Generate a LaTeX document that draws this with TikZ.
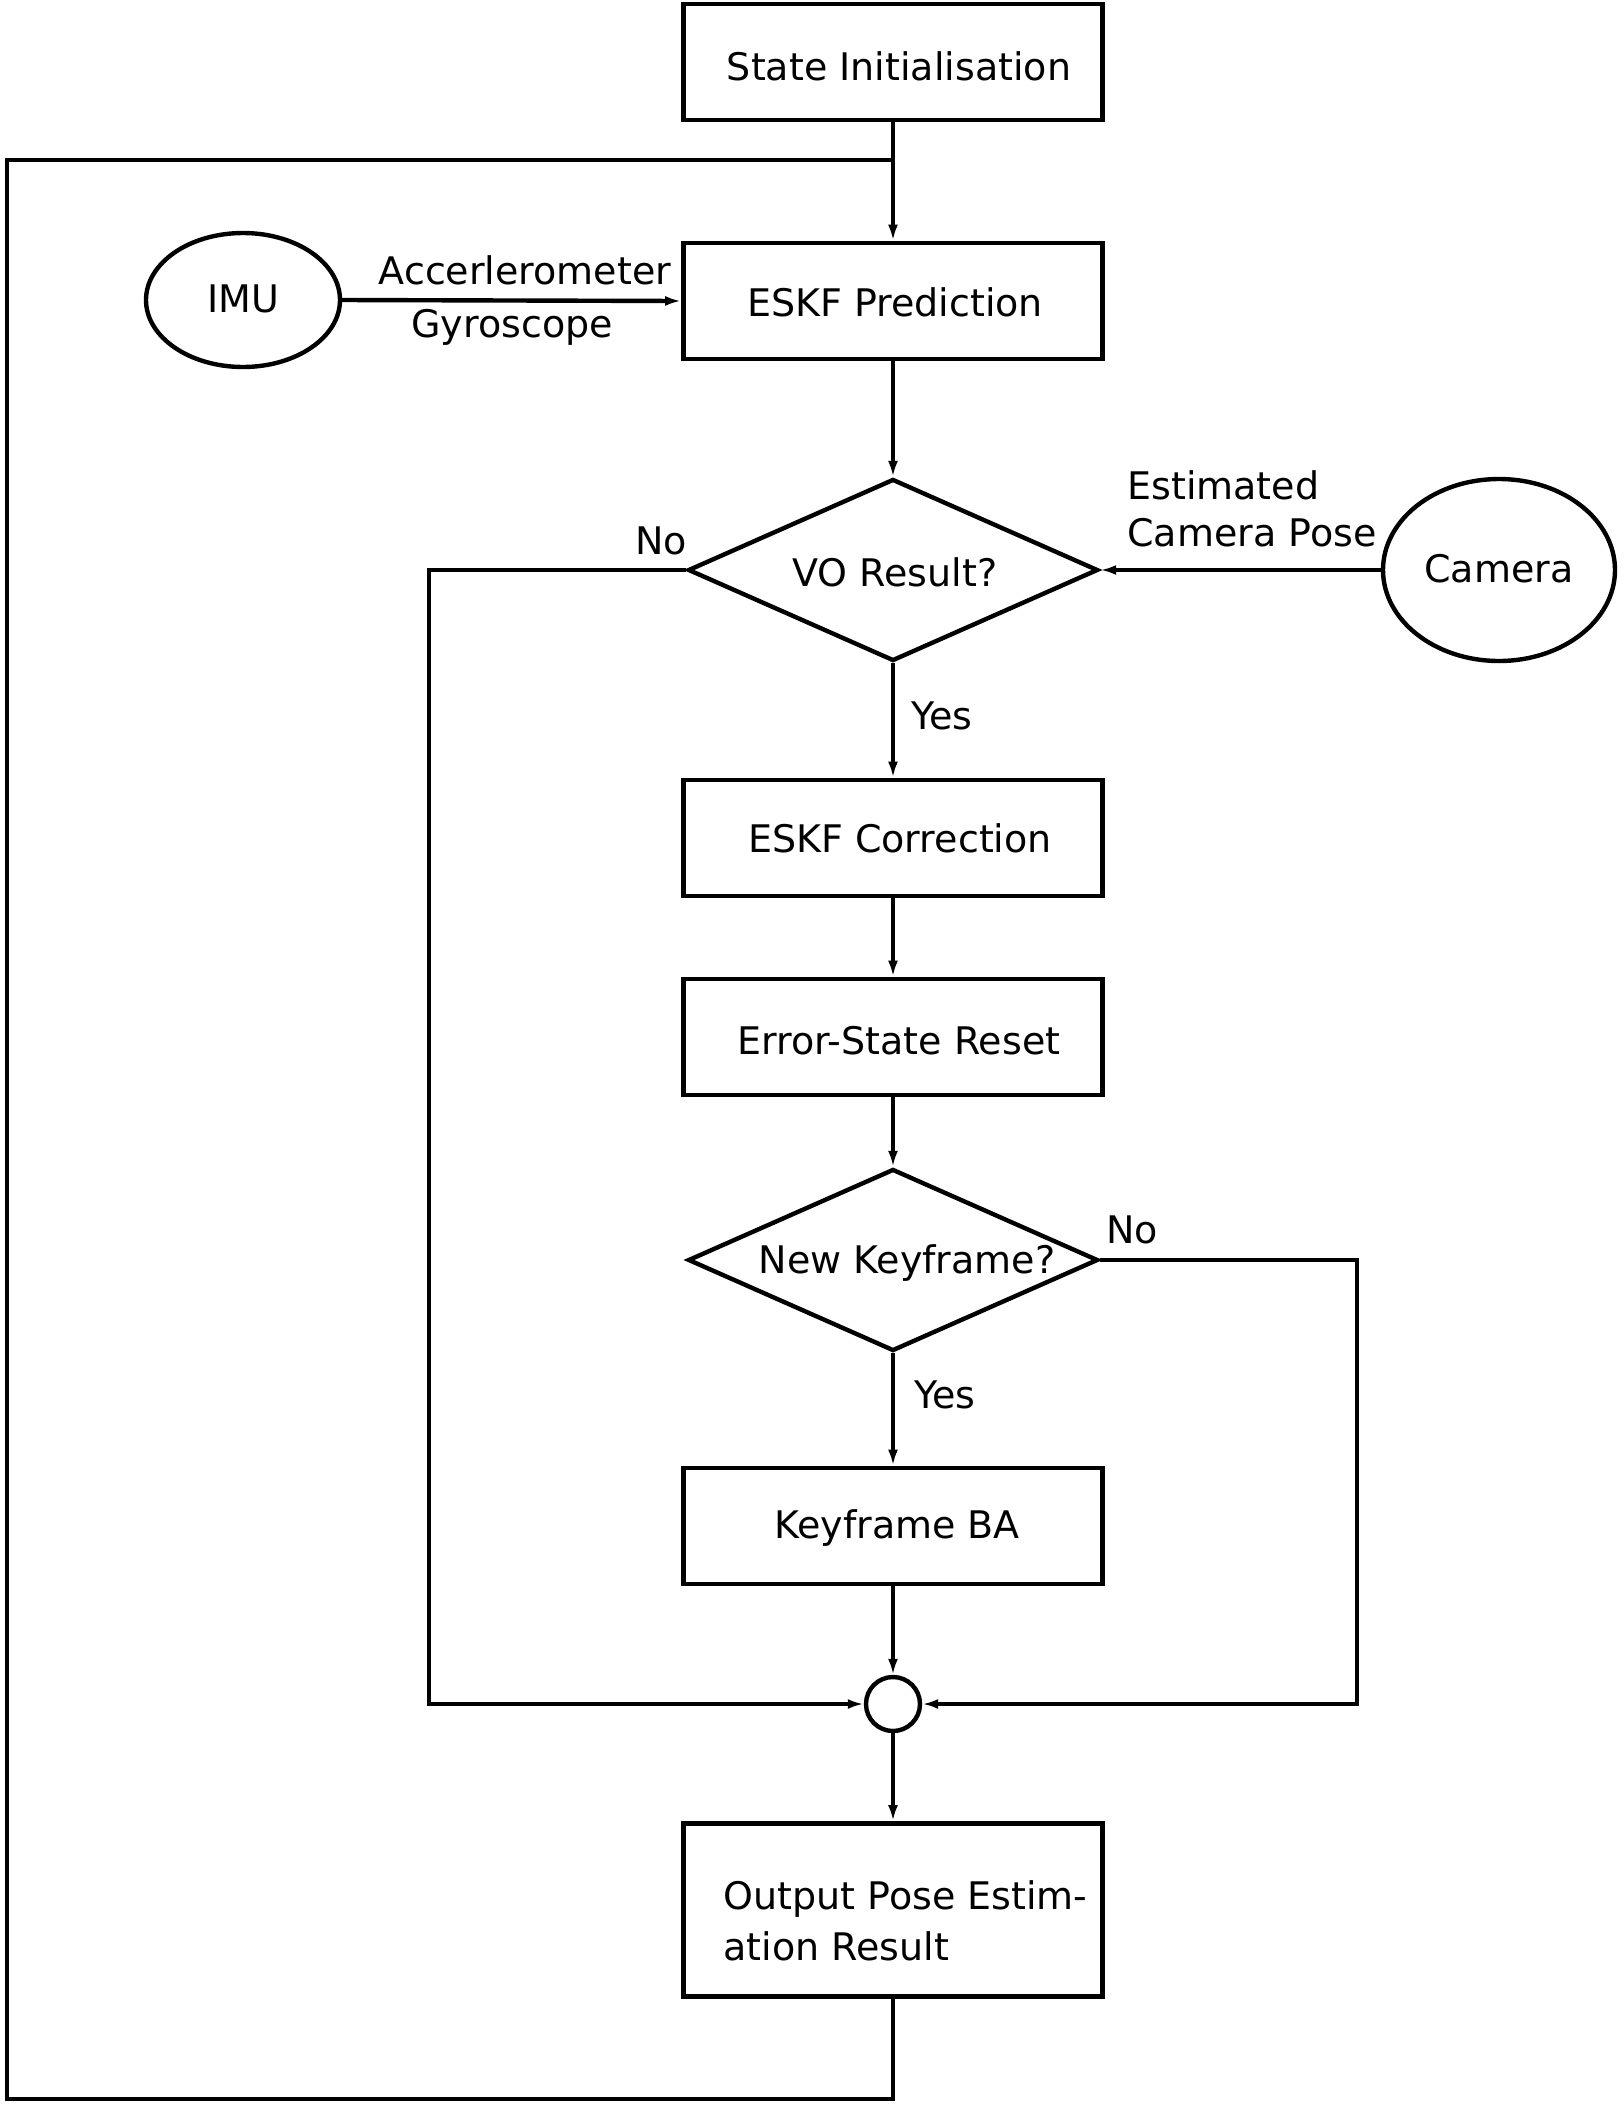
\documentclass[tikz,border=0pt]{standalone}
\usepackage{fontspec}
\setmainfont{DejaVu Sans}
\usetikzlibrary{arrows.meta,shapes.geometric}
\begin{document}
\begin{tikzpicture}[x=0.5pt,y=-0.5pt,
  every node/.style={font=\fontsize{19pt}{23.5pt}\selectfont},
  box/.style={draw,line width=2.4pt,minimum width=209.5pt,minimum height=58pt,inner sep=0pt},
  dia/.style={draw,diamond,line width=2.2pt,minimum width=205pt,minimum height=91pt,inner sep=0pt},
  oval/.style={draw,ellipse,line width=2.2pt,inner sep=0pt},
  txt/.style={inner sep=0pt},
  line/.style={line width=2.2pt},
  arr/.style={line width=2.2pt,-{Latex[length=8pt,width=5pt]}}]
\useasboundingbox (0,0) rectangle (1623,2110);
% nodes
\node[box] (init) at (893,62) {};
\node[txt] at (899,66) {State Initialisation};
\node[box] (pred) at (893,301) {};
\node[txt] at (895,302) {ESKF Prediction};
\node[oval,minimum width=97pt,minimum height=67pt] (imu) at (243,300) {};
\node[txt] at (243,299) {IMU};
\node[dia] (vo) at (893,570) {};
\node[txt] at (895,572) {VO Result?};
\node[oval,minimum width=116pt,minimum height=91pt] (cam) at (1499,570) {};
\node[txt] at (1499,569) {Camera};
\node[box] (corr) at (893,838) {};
\node[txt] at (900,838) {ESKF Correction};
\node[box] (reset) at (893,1037) {};
\node[txt] at (899,1041) {Error-State Reset};
\node[dia] (kf) at (893,1260) {};
\node[txt] at (907,1263) {New Keyframe?};
\node[box] (ba) at (893,1526) {};
\node[txt] at (897,1528) {Keyframe BA};
\node[circle,draw,line width=2.2pt,minimum size=27pt,inner sep=0pt] (merge) at (893,1704) {};
\node[box,minimum height=86.5pt] (out) at (893,1910) {};
\node[txt,anchor=west] at (723,1899) {Output Pose Estim-};
\node[txt,anchor=west] at (723,1946) {ation Result};
% labels
\node[txt] at (525,270) {Accerlerometer};
\node[txt] at (512,327) {Gyroscope};
\node[txt,anchor=west] at (1127,485) {Estimated};
\node[txt,anchor=west] at (1127,533) {Camera Pose};
\node[txt] at (661,541) {No};
\node[txt] at (942,716) {Yes};
\node[txt] at (1132,1230) {No};
\node[txt] at (945,1395) {Yes};
% coordinates
\coordinate (jt) at (893,160);
\coordinate (tl) at (7,160);
\coordinate (bl) at (7,2099);
\coordinate (bm) at (893,2099);
\coordinate (nol1) at (429,570);
\coordinate (nol2) at (429,1704);
\coordinate (nor1) at (1357,1260);
\coordinate (nor2) at (1357,1704);
% connectors
\draw[arr] (init.south) -- (pred.north);
\draw[line] (out.south) -- (bm) -- (bl) -- (tl) -- (jt);
\draw[arr] (imu.east) -- (pred.west);
\draw[arr] (pred.south) -- (vo.north);
\draw[arr] (cam.west) -- (vo.east);
\draw[arr] (vo.west) -- (nol1) -- (nol2) -- (merge.west);
\draw[arr] (vo.south) -- (corr.north);
\draw[arr] (corr.south) -- (reset.north);
\draw[arr] (reset.south) -- (kf.north);
\draw[arr] (kf.east) -- (nor1) -- (nor2) -- (merge.east);
\draw[arr] (kf.south) -- (ba.north);
\draw[arr] (ba.south) -- (merge.north);
\draw[arr] (merge.south) -- (out.north);
\end{tikzpicture}
\end{document}
